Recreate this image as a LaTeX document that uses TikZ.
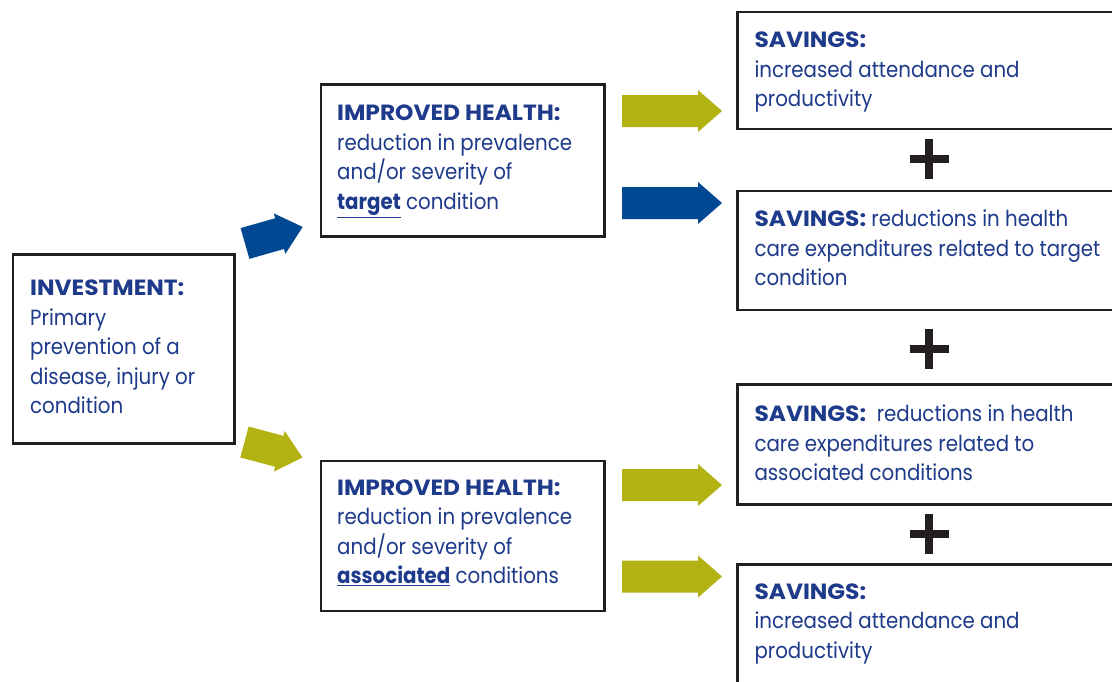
\documentclass[tikz,border=0pt]{standalone}
\usepackage{fontspec}
\setmainfont{Poppins}[FakeStretch=0.9]
\newfontfamily\hdfont{Poppins}[FakeStretch=1.06]
\newcommand\hd[1]{{\hdfont\bfseries #1}}
\definecolor{txtblue}{RGB}{30,58,138}
\definecolor{arrblue}{RGB}{0,72,145}
\definecolor{olive}{RGB}{178,178,18}
\definecolor{boxline}{RGB}{35,31,32}
\newcommand\blockarrow[5]{% x, y, angle, colour, shaft length
  \fill[#4, shift={(#1,#2)}, rotate=#3]
    (0,-16) -- (#5,-16) -- (#5,-21) -- ({#5+24},0) -- (#5,21) -- (#5,16) -- (0,16) -- cycle;}
\newcommand\plussign[2]{%
  \draw[boxline, line width=8pt] (#1-19.5,#2) -- (#1+19.5,#2);
  \draw[boxline, line width=8pt] (#1,#2-20) -- (#1,#2+20);}
\begin{document}
\begin{tikzpicture}[x=1pt,y=-1pt,
  box/.style={draw=boxline, line width=2.5pt, fill=white, anchor=north west, inner sep=0pt},
  txt/.style={anchor=north west, inner sep=0pt, align=left, text=txtblue,
    font=\fontsize{22}{29.5}\selectfont}]
\clip (0,0) rectangle (1112,681);
\fill[white] (0,0) rectangle (1112,681);
% boxes
\node[box, minimum width=221.5pt, minimum height=189pt] (inv) at (11.5,253) {};
\node[box, minimum width=283.5pt, minimum height=152pt] (ih1) at (319.5,83) {};
\node[box, minimum width=283.5pt, minimum height=150pt] (ih2) at (319.5,459.5) {};
\node[box, minimum width=400pt, minimum height=116.8pt] (s1) at (736,10.7) {};
\node[box, minimum width=400pt, minimum height=119pt] (s2) at (736,189.5) {};
\node[box, minimum width=400pt, minimum height=120pt] (s3) at (736,383.3) {};
\node[box, minimum width=400pt, minimum height=140pt] (s4) at (736,563.3) {};
% texts
\node[txt] (invt) at (30,280) {\hd{INVESTMENT:}\\Primary\\prevention of a\\disease, injury or\\condition};
\node[txt] (ih1t) at (337,105) {\hd{IMPROVED HEALTH:}\\reduction in prevalence\\and/or severity of\\\underline{\textbf{target}} condition};
\node[txt] (ih2t) at (337,479.3) {\hd{IMPROVED HEALTH:}\\reduction in prevalence\\and/or severity of\\\underline{\textbf{associated}} conditions};
\node[txt] (s1t) at (754.3,31.7) {\hd{SAVINGS:}\\increased attendance and\\productivity};
\node[txt] (s2t) at (754.3,210) {\hd{SAVINGS:} reductions in health\\care expenditures related to target\\condition};
\node[txt] (s3t) at (754.3,405) {\hd{SAVINGS:}\ \ reductions in health\\care expenditures related to\\associated conditions};
\node[txt] (s4t) at (754.3,583.3) {\hd{SAVINGS:}\\increased attendance and\\productivity};
% arrows
\blockarrow{245}{243.5}{16}{arrblue}{36}
\blockarrow{244.5}{442}{-15}{olive}{36}
\blockarrow{622}{111}{0}{olive}{76}
\blockarrow{622}{203}{0}{arrblue}{76}
\blockarrow{622}{485}{0}{olive}{76}
\blockarrow{622}{576.5}{0}{olive}{76}
% plus signs
\plussign{929}{159}
\plussign{929}{348.5}
\plussign{929}{533.8}
\end{tikzpicture}
\end{document}
